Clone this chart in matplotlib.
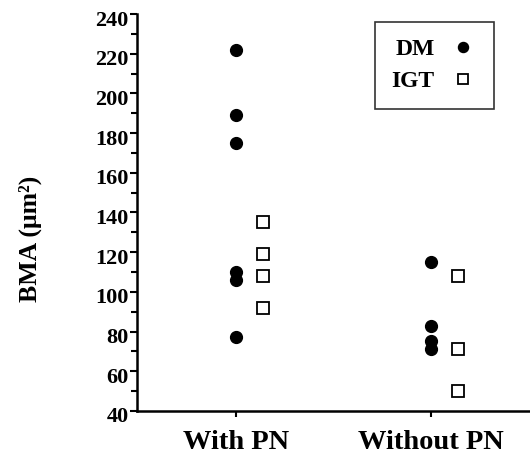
import matplotlib.pyplot as plt
import matplotlib.transforms as mtransforms
from matplotlib.ticker import MultipleLocator

groups = ['With PN', 'Without PN']
dm_with = [222, 189, 175, 110, 106, 77]
igt_with = [135, 119, 108, 92]
dm_without = [115, 83, 75, 71]
igt_without = [108, 71, 50]

plt.rcParams['font.family'] = ['Liberation Serif', 'DejaVu Serif']
plt.rcParams['font.weight'] = 'bold'

fig = plt.figure(figsize=(5.3, 4.55), dpi=100)
ax = fig.add_axes([0.258, 0.097, 0.742, 0.872])

off = 0.14
ax.plot([1] * len(dm_with), dm_with, 'o', color='black', ms=8.5, label='DM')
ax.plot([2] * len(dm_without), dm_without, 'o', color='black', ms=8.5)
ax.plot([1 + off] * len(igt_with), igt_with, 's', mfc='white', mec='black',
        mew=1.3, ms=8.5, label='IGT')
ax.plot([2 + off] * len(igt_without), igt_without, 's', mfc='white', mec='black',
        mew=1.3, ms=8.5)

ax.set_xlim(0.49, 2.51)
ax.set_ylim(40, 240)
ax.set_xticks([1, 2])
ax.set_xticklabels(groups, fontsize=20.5, fontweight='bold')
ax.yaxis.set_major_locator(MultipleLocator(20))
ax.yaxis.set_minor_locator(MultipleLocator(10))
ax.tick_params(axis='y', labelsize=16, width=1.5, length=5, pad=1)
ax.tick_params(axis='y', which='minor', width=1.5, length=4)
ax.tick_params(axis='x', width=1.5, length=4, pad=10)
shift = mtransforms.ScaledTranslation(0, -4 / 100, fig.dpi_scale_trans)
for lab in ax.get_yticklabels():
    lab.set_fontweight('bold')
    lab.set_transform(lab.get_transform() + shift)
ax.spines['top'].set_visible(False)
ax.spines['right'].set_visible(False)
ax.spines['left'].set_linewidth(1.8)
ax.spines['bottom'].set_linewidth(1.8)

ax.set_ylabel('BMA (μm²)', fontsize=18.5, fontweight='bold')
ax.yaxis.set_label_coords(-0.242, 0.433)

leg = ax.legend(loc='upper right', bbox_to_anchor=(0.908, 0.98), markerfirst=False,
                fancybox=False, edgecolor='black', fontsize=17, markerscale=0.85,
                handletextpad=0.6, borderpad=0.7, labelspacing=0.45, handlelength=1.2,
                borderaxespad=0)
leg.get_frame().set_linewidth(1.2)
for t in leg.get_texts():
    t.set_fontweight('bold')

fig.savefig('out.png', dpi=100)
